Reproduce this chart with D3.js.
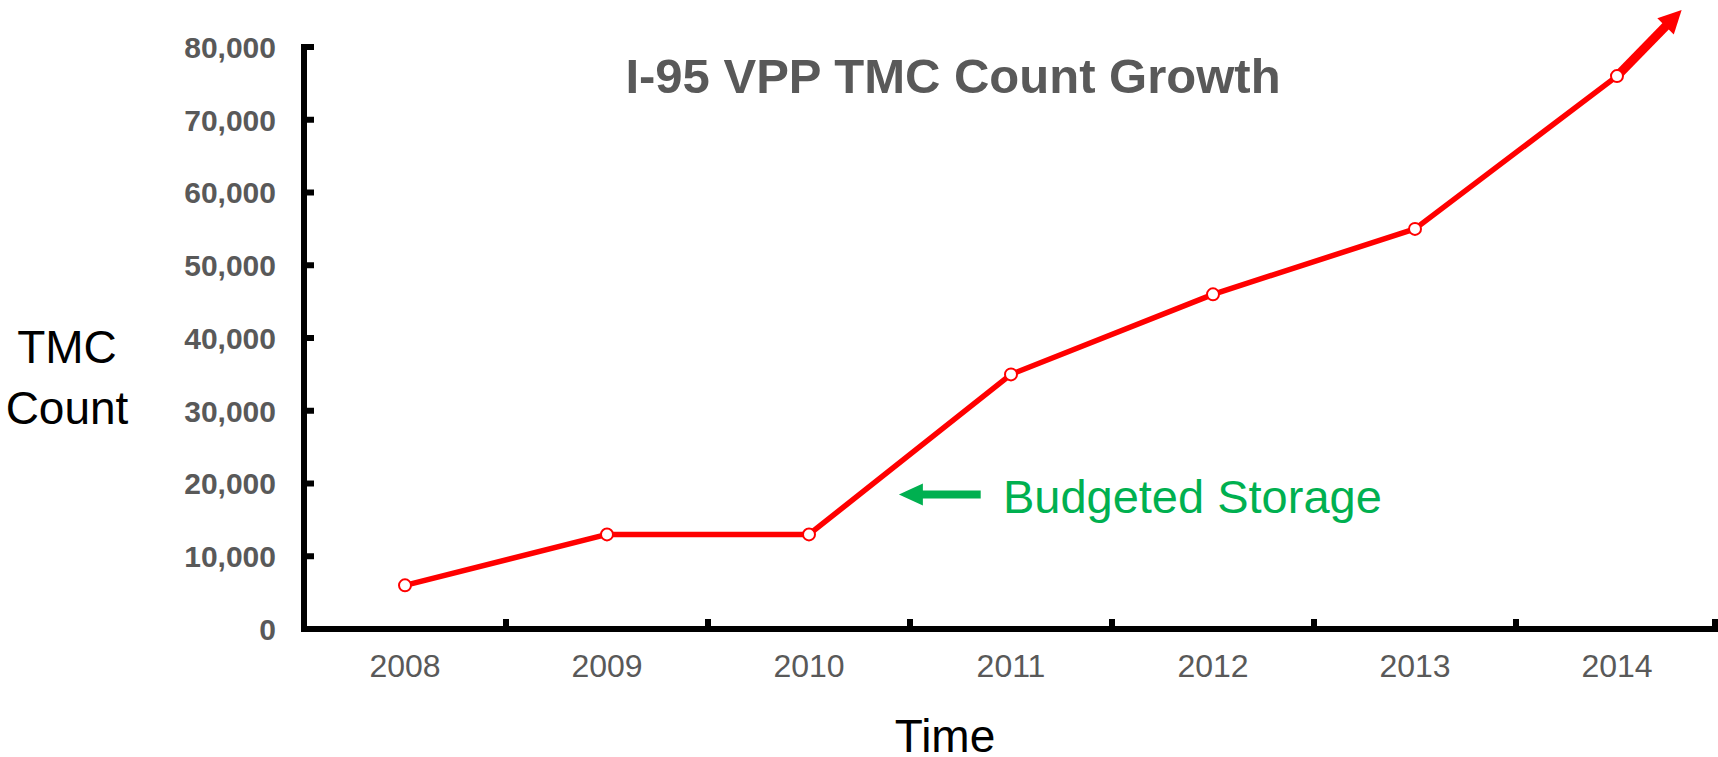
<!DOCTYPE html>
<html>
<head>
<meta charset="utf-8">
<script src="https://cdn.jsdelivr.net/npm/d3@7"></script>
<style>
  body { margin: 0; background: #fff; }
  text { font-family: Arial, "Liberation Sans", sans-serif; }
</style>
</head>
<body>
<svg id="chart" width="1718" height="757"></svg>
<script>
// data
var years = ["2008", "2009", "2010", "2011", "2012", "2013", "2014"];
var tmcCount = [6000, 13000, 13000, 35000, 46000, 55000, 76000];
var yTicks = [0, 10000, 20000, 30000, 40000, 50000, 60000, 70000, 80000];
// trend arrow past 2014 (fractional year index, value)
var trendTip = { i: 6.32, v: 85100 };
// "Budgeted Storage" note, placed in data space
var noteArrow = { from: 2.85, to: 2.445, v: 18500 };
var noteText = { i: 2.96, v: 16000, label: "Budgeted Storage" };

var svg = d3.select("#chart");
// plot box (note: "top" is taken by window.top, so prefix these)
var pLeft = 304, pRight = 1718, pTop = 47, pBottom = 629;
var grey = "#595959", red = "#ff0000", green = "#00b050";

var x = d3.scaleBand().domain(years).range([pLeft, pRight]);
var y = d3.scaleLinear().domain([0, 80000]).range([pBottom, pTop]);
// index -> pixel, for things between categories
var xi = function(i) { return pLeft + (i + 0.5) * x.bandwidth(); };

// title
svg.append("text")
    .attr("x", 953).attr("y", 93)
    .attr("text-anchor", "middle")
    .style("font-size", "49px").style("font-weight", "bold")
    .style("fill", grey)
    .text("I-95 VPP TMC Count Growth");

// y axis
var yAxis = svg.append("g").attr("transform", "translate(" + pLeft + ",0)");
yAxis.append("line")
    .attr("x1", 0).attr("x2", 0)
    .attr("y1", y(80000) - 3).attr("y2", pBottom + 3)
    .style("stroke", "#000").style("stroke-width", 6);
yAxis.selectAll(".ytick").data(yTicks).enter().append("line")
    .attr("class", "ytick")
    .attr("x1", 0).attr("x2", 10)
    .attr("y1", function(d) { return y(d); })
    .attr("y2", function(d) { return y(d); })
    .style("stroke", "#000").style("stroke-width", 6);
yAxis.selectAll(".ylab").data(yTicks).enter().append("text")
    .attr("class", "ylab")
    .attr("x", -28)
    .attr("y", function(d) { return y(d); })
    .attr("dy", "0.36em")
    .attr("text-anchor", "end")
    .style("font-size", "30px").style("font-weight", "bold")
    .style("fill", grey)
    .text(function(d) { return d3.format(",")(d); });

// x axis
var xAxis = svg.append("g").attr("transform", "translate(0," + pBottom + ")");
xAxis.append("line")
    .attr("x1", pLeft - 3).attr("x2", pRight)
    .attr("y1", 0).attr("y2", 0)
    .style("stroke", "#000").style("stroke-width", 6);
var bounds = years.map(function(d) { return x(d) + x.bandwidth(); });
xAxis.selectAll(".xtick").data(bounds).enter().append("line")
    .attr("class", "xtick")
    .attr("x1", function(d) { return Math.min(d, pRight - 3); })
    .attr("x2", function(d) { return Math.min(d, pRight - 3); })
    .attr("y1", 0).attr("y2", -10)
    .style("stroke", "#000").style("stroke-width", 6);
xAxis.selectAll(".xlab").data(years).enter().append("text")
    .attr("class", "xlab")
    .attr("x", function(d) { return x(d) + x.bandwidth() / 2; })
    .attr("y", 48)
    .attr("text-anchor", "middle")
    .style("font-size", "32px")
    .style("fill", grey)
    .text(function(d) { return d; });

// axis titles
var yTitle = svg.append("text")
    .attr("text-anchor", "middle")
    .style("font-size", "46px").style("fill", "#000");
yTitle.append("tspan").attr("x", 67).attr("y", 363).text("TMC");
yTitle.append("tspan").attr("x", 67).attr("y", 424).text("Count");

svg.append("text")
    .attr("x", 945).attr("y", 752)
    .attr("text-anchor", "middle")
    .style("font-size", "46px").style("fill", "#000")
    .text("Time");

// series
var pts = years.map(function(d, i) { return { year: d, v: tmcCount[i] }; });
var line = d3.line()
    .x(function(d) { return x(d.year) + x.bandwidth() / 2; })
    .y(function(d) { return y(d.v); });

svg.append("path")
    .datum(pts)
    .attr("d", line)
    .style("fill", "none")
    .style("stroke", red)
    .style("stroke-width", 5.5)
    .style("stroke-linejoin", "round");

// trend arrow from last point
var last = pts[pts.length - 1];
var sx = x(last.year) + x.bandwidth() / 2, sy = y(last.v);
var tx = xi(trendTip.i), ty = y(trendTip.v);
var ang = Math.atan2(ty - sy, tx - sx);
var headLen = 23, headHalf = 11.5;
var bx = tx - headLen * Math.cos(ang), by = ty - headLen * Math.sin(ang);
svg.append("line")
    .attr("x1", sx).attr("y1", sy).attr("x2", bx + Math.cos(ang)).attr("y2", by + Math.sin(ang))
    .style("stroke", red).style("stroke-width", 9);
svg.append("path")
    .attr("d", "M" + tx + "," + ty +
        "L" + (bx - headHalf * Math.sin(ang)) + "," + (by + headHalf * Math.cos(ang)) +
        "L" + (bx + headHalf * Math.sin(ang)) + "," + (by - headHalf * Math.cos(ang)) + "Z")
    .style("fill", red);

svg.selectAll(".pt").data(pts).enter().append("circle")
    .attr("class", "pt")
    .attr("cx", function(d) { return x(d.year) + x.bandwidth() / 2; })
    .attr("cy", function(d) { return y(d.v); })
    .attr("r", 6)
    .style("fill", "#fff")
    .style("stroke", red)
    .style("stroke-width", 2);

// Budgeted Storage note
var ny = y(noteArrow.v);
var nTip = xi(noteArrow.to), nEnd = xi(noteArrow.from);
svg.append("line")
    .attr("x1", nEnd).attr("x2", nTip + 20)
    .attr("y1", ny).attr("y2", ny)
    .style("stroke", green).style("stroke-width", 8);
svg.append("path")
    .attr("d", "M" + nTip + "," + ny + "L" + (nTip + 24) + "," + (ny - 11) + "L" + (nTip + 24) + "," + (ny + 11) + "Z")
    .style("fill", green);
svg.append("text")
    .attr("x", xi(noteText.i)).attr("y", y(noteText.v))
    .style("font-size", "47px").style("fill", green)
    .text(noteText.label);
</script>
</body>
</html>
